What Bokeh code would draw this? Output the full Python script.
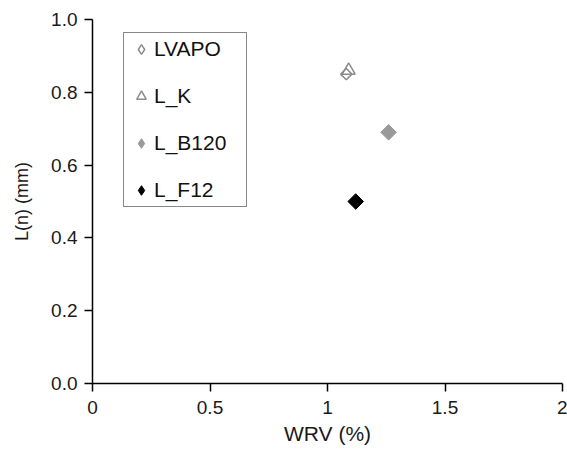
import math
from bokeh.plotting import figure
from bokeh.models import Legend, LegendItem, FixedTicker
from bokeh.embed import file_html
from bokeh.resources import INLINE

# data
series_names = ["LVAPO", "L_K", "L_B120", "L_F12"]
wrv = [1.08, 1.09, 1.26, 1.12]
ln_mm = [0.85, 0.86, 0.69, 0.50]

x_ticks = [0, 0.5, 1, 1.5, 2]
x_tick_labels = ["0", "0.5", "1", "1.5", "2"]
y_ticks = [0, 0.2, 0.4, 0.6, 0.8, 1.0]
y_tick_labels = ["0.0", "0.2", "0.4", "0.6", "0.8", "1.0"]

FONT = "Liberation Sans"
GRAY_LINE = "#8c8c8c"
GRAY_FILL = "#999999"
NAN = float("nan")

p = figure(width=567, height=450, output_backend="svg", toolbar_location=None,
           x_range=(0, 2), y_range=(0, 1.0),
           frame_width=470, frame_height=364,
           min_border_left=92, min_border_top=19, min_border_right=5, min_border_bottom=67)
p.outline_line_color = None
p.grid.visible = False
p.background_fill_color = "white"

for ax in (p.xaxis[0], p.yaxis[0]):
    ax.axis_line_color = "black"
    ax.axis_line_width = 1.5
    ax.major_tick_line_color = "black"
    ax.major_tick_line_width = 1.5
    ax.major_tick_out = 8
    ax.major_tick_in = 0
    ax.minor_tick_line_color = None
    ax.major_label_text_font = FONT
    ax.major_label_text_font_size = "19px"
    ax.major_label_text_color = "#1a1a1a"
    ax.axis_label_text_font = FONT
    ax.axis_label_text_font_style = "normal"
    ax.axis_label_text_color = "#1a1a1a"

p.xaxis.ticker = FixedTicker(ticks=x_ticks)
p.xaxis.major_label_overrides = {t: l for t, l in zip(x_ticks, x_tick_labels)}
p.yaxis.ticker = FixedTicker(ticks=y_ticks)
p.yaxis.major_label_overrides = {t: l for t, l in zip(y_ticks, y_tick_labels)}
p.xaxis.axis_label = "WRV (%)"
p.yaxis.axis_label = "L(n) (mm)"
p.xaxis.axis_label_text_font_size = "21px"
p.yaxis.axis_label_text_font_size = "18px"
p.xaxis.major_label_standoff = 9
p.xaxis.axis_label_standoff = 5
p.yaxis.major_label_standoff = 7
p.yaxis.axis_label_standoff = 16

ang = math.pi / 4
# data markers (rotated squares look like the reference's square diamonds)
p.scatter([wrv[0]], [ln_mm[0]], marker="square", size=8, angle=ang,
          fill_color="white", fill_alpha=0, line_color=GRAY_LINE, line_width=1.5)
p.scatter([wrv[1]], [ln_mm[1]], marker="triangle", size=13,
          fill_color="white", fill_alpha=0, line_color=GRAY_LINE, line_width=1.5)
p.scatter([wrv[2]], [ln_mm[2]], marker="square", size=11, angle=ang,
          fill_color=GRAY_FILL, line_color=GRAY_FILL)
p.scatter([wrv[3]], [ln_mm[3]], marker="square", size=11, angle=ang,
          fill_color="black", line_color="black")

# legend proxies (NaN point, never drawn in the plot; used only for the legend symbol)
l0 = p.scatter([NAN], [NAN], marker="diamond", fill_color="white", fill_alpha=0,
               line_color=GRAY_LINE, line_width=1.5)
l1 = p.scatter([NAN], [NAN], marker="triangle", fill_color="white", fill_alpha=0,
               line_color=GRAY_LINE, line_width=1.5)
l2 = p.scatter([NAN], [NAN], marker="diamond", fill_color=GRAY_FILL, line_color=GRAY_FILL)
l3 = p.scatter([NAN], [NAN], marker="diamond", fill_color="black", line_color="black")

legend = Legend(items=[LegendItem(label=n, renderers=[r]) for n, r in zip(series_names, [l0, l1, l2, l3])],
                location=(31, 176))
legend.border_line_color = "#111111"
legend.border_line_width = 1
legend.background_fill_color = "white"
legend.label_text_font = FONT
legend.label_text_font_size = "21px"
legend.label_text_color = "#111111"
legend.glyph_width = 26
legend.glyph_height = 24
legend.label_height = 24
legend.label_width = 88
legend.label_standoff = 0
legend.spacing = 23
legend.padding = 4
legend.margin = 0
p.add_layout(legend, "center")

open("out.html", "w").write(file_html(p, INLINE))
